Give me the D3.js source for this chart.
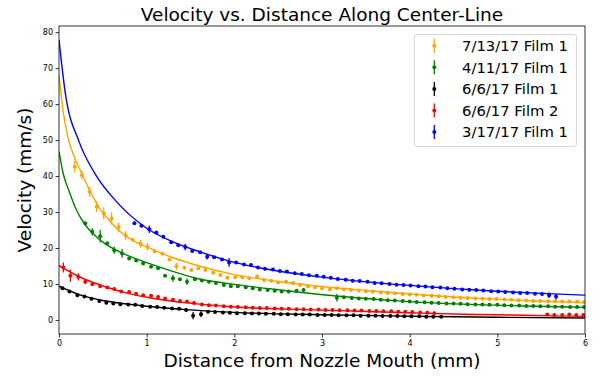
<!DOCTYPE html>
<html>
<head>
<meta charset="utf-8">
<script src="https://cdn.jsdelivr.net/npm/d3@7"></script>
<style>
  body { margin: 0; background: #fff; }
  text { font-family: "DejaVu Sans", sans-serif; fill: #000; }
</style>
</head>
<body>
<svg id="chart" width="598" height="376"></svg>
<script>
// ---- data ----
const legendLabels = ["7/13/17 Film 1", "4/11/17 Film 1", "6/6/17 Film 1", "6/6/17 Film 2", "3/17/17 Film 1"];
const xTicks = [0, 1, 2, 3, 4, 5, 6];
const yTicks = [0, 10, 20, 30, 40, 50, 60, 70, 80];

// measured points [distance mm, velocity mm/s]
const orangePts = [[0.18,42.6],[0.26,40.3],[0.35,35.6],[0.43,31.5],[0.51,29.6],[0.60,28.2],[0.68,25.8],[0.76,23.5],[0.84,22.3],[0.93,21.2],
  [1.01,20.3],[1.09,19.0],[1.18,18.4],[1.26,16.8],[1.34,14.9],[1.43,14.5],[1.51,13.9],[1.59,14.4],[1.67,13.9],[1.76,13.1],
  [1.84,12.5],[1.92,11.7],[2.01,11.9],[2.09,11.9],[2.17,11.6],[2.26,12.1],[2.34,11.1],[2.42,10.9],[2.50,10.4],[2.59,10.6],
  [2.67,10.3],[2.75,9.7],[2.84,9.4],[2.92,9.1],[3.00,8.8],[3.09,8.5],[3.17,8.8],[3.25,8.5],[3.33,8.3],[3.42,8.2],
  [3.50,8.0],[3.58,7.9],[3.67,7.6],[3.75,7.5],[3.83,7.4],[3.92,7.2],[4.00,7.1],[4.08,7.0],[4.16,6.8],[4.25,6.7],
  [4.33,6.6],[4.41,6.4],[4.50,6.3],[4.58,6.2],[4.66,6.1],[4.75,6.0],[4.83,5.9],[4.91,5.8],[4.99,5.8],[5.08,5.7],
  [5.16,5.6],[5.24,5.5],[5.33,5.4],[5.41,5.3],[5.49,5.3],[5.58,5.2],[5.66,5.2],[5.74,5.1],[5.82,5.1],[5.91,5.1],[5.99,5.0]];
const greenPts = [[0.30,26.9],[0.38,24.5],[0.47,23.3],[0.55,21.3],[0.63,19.4],[0.72,18.5],[0.80,17.1],[0.88,16.5],[0.96,15.7],[1.05,14.8],
  [1.13,14.4],[1.21,12.3],[1.30,11.6],[1.38,11.3],[1.46,10.6],[1.55,11.3],[1.63,11.0],[1.71,10.6],[1.79,10.3],[1.88,9.7],
  [1.96,9.4],[2.04,9.4],[2.13,9.1],[2.21,8.8],[2.29,8.5],[2.38,8.3],[2.46,8.1],[2.54,7.9],[2.62,7.9],[2.71,8.1],[2.79,8.3],
  [3.17,6.2],[3.25,6.3],[3.34,6.1],[3.42,6.0],[3.50,5.9],[3.59,5.8],[3.67,5.6],[3.75,5.5],[3.83,5.4],[3.92,5.3],
  [4.00,5.1],[4.08,5.0],[4.17,4.9],[4.25,4.8],[4.33,4.7],[4.42,4.6],[4.50,4.6],[4.58,4.5],[4.66,4.4],[4.75,4.3],
  [4.83,4.3],[4.91,4.2],[5.00,4.2],[5.08,4.1],[5.16,4.0],[5.25,4.0],[5.33,3.9],[5.41,3.9],[5.49,3.8],[5.58,3.8],
  [5.66,3.7],[5.74,3.7],[5.83,3.6],[5.91,3.6],[5.99,3.6]];
const blackPts = [[0.04,8.8],[0.12,7.9],[0.21,6.9],[0.29,6.5],[0.37,5.9],[0.46,5.3],[0.54,4.8],[0.62,4.6],[0.70,4.4],[0.79,4.3],
  [0.87,4.2],[0.95,3.9],[1.04,3.7],[1.12,3.6],[1.20,3.4],[1.29,3.2],[1.37,3.1],[1.45,2.8],[1.53,1.2],[1.62,1.6],
  [1.70,2.3],[1.78,2.2],[1.87,2.1],[1.95,2.0],[2.03,1.9],[2.12,1.9],[2.20,1.8],[2.28,1.8],[2.36,1.7],[2.45,1.7],
  [2.53,1.6],[2.61,1.6],[2.70,1.5],[2.78,1.5],[2.86,1.5],[2.95,1.4],[3.03,1.4],[3.11,1.4],[3.19,1.3],[3.28,1.3],
  [3.36,1.3],[3.44,1.2],[3.53,1.2],[3.61,1.2],[3.69,1.1],[3.78,1.1],[3.86,1.1],[3.94,1.0],[4.02,1.0],[4.11,1.0],
  [4.19,0.9],[4.27,0.9],[4.36,0.9]];
const redPts = [[0.05,14.6],[0.13,12.3],[0.22,12.0],[0.30,10.6],[0.38,9.9],[0.47,9.4],[0.55,9.0],[0.63,8.6],[0.71,7.9],[0.80,7.8],
  [0.88,7.3],[0.96,6.9],[1.05,6.7],[1.13,6.4],[1.21,6.0],[1.30,5.6],[1.38,5.3],[1.46,5.1],[1.54,4.7],[1.63,4.3],
  [1.71,4.1],[1.79,4.0],[1.88,3.8],[1.96,3.7],[2.04,3.6],[2.13,3.5],[2.21,3.4],[2.29,3.3],[2.37,3.3],[2.46,3.2],
  [2.54,3.1],[2.62,3.1],[2.71,3.0],[2.79,3.0],[2.87,2.9],[2.96,2.9],[3.04,2.8],[3.12,2.8],[3.20,2.7],[3.29,2.7],
  [3.37,2.6],[3.45,2.6],[3.54,2.5],[3.62,2.5],[3.70,2.4],[3.79,2.4],[3.87,2.3],[3.95,2.3],[4.03,2.2],[4.12,2.1],
  [4.20,2.0],[4.28,1.9],
  [5.57,1.5],[5.65,1.4],[5.74,1.4],[5.82,1.5],[5.90,1.4],[5.98,1.4]];
const bluePts = [[0.86,26.9],[0.94,26.2],[1.03,25.2],[1.11,24.3],[1.19,23.1],[1.28,21.6],[1.36,20.8],[1.44,20.3],[1.52,19.2],[1.61,18.8],
  [1.69,17.6],[1.77,17.4],[1.86,16.8],[1.94,16.0],[2.02,16.0],[2.11,15.4],[2.19,15.3],[2.27,14.6],[2.35,14.2],[2.44,14.0],
  [2.52,13.6],[2.60,13.5],[2.69,13.0],[2.77,12.8],[2.85,12.4],[2.94,12.3],[3.02,12.0],[3.10,11.7],[3.18,11.4],[3.27,11.2],
  [3.35,10.9],[3.43,10.8],[3.52,10.6],[3.60,10.3],[3.68,10.2],[3.77,10.0],[3.85,9.8],[3.93,9.7],[4.01,9.6],[4.10,9.4],
  [4.18,9.3],[4.26,9.1],[4.35,9.0],[4.43,8.8],[4.51,8.7],[4.60,8.5],[4.68,8.4],[4.76,8.3],[4.84,8.2],[4.93,8.0],
  [5.01,7.9],[5.09,7.8],[5.18,7.6],[5.26,7.5],[5.34,7.5],[5.43,7.3],[5.51,7.2],[5.59,6.9],[5.67,6.5]];

// error bar half-widths that are visible [point index, +/- mm/s]; the rest use defaultErr
const defaultErr = 0.35;
const orangeErr = [[0,1.6],[1,1.2],[2,1.4],[3,1.5],[4,1.7],[5,1.7],[6,1.3],[7,1.2],[9,1.1],[10,1.1],[14,1.0]];
const greenErr = [[1,1.0],[2,1.8],[4,1.0],[5,1.2],[12,1.0],[14,0.9],[31,1.1]];
const blackErr = [[18,1.0],[19,0.8]];
const redErr = [[0,1.4],[1,1.7],[2,1.0],[3,0.7]];
const blueErr = [[2,1.0],[7,0.9],[10,0.8],[13,1.2],[57,0.8],[58,0.8]];

// fitted curves [distance, velocity]
const orangeFit = [[0,68],[0.05,57.5],[0.11,50],[0.18,45],[0.26,40.7],[0.35,36],[0.45,31.5],[0.58,27.5],[0.71,24.3],[0.85,22.0],
  [1.0,20.3],[1.3,17.3],[1.6,15.0],[2.0,12.6],[2.5,10.7],[3.0,9.3],[3.5,8.2],[4.0,7.2],[4.7,6.1],[5.3,5.4],[6.0,4.8]];
const greenFit = [[0,46.8],[0.05,40.5],[0.11,36.1],[0.2,30.5],[0.3,26.4],[0.41,23.5],[0.52,21.3],[0.75,18.3],[1.1,15.1],
  [1.6,11.4],[2.0,9.9],[2.5,8.4],[3.2,6.6],[4.0,5.1],[4.6,4.4],[5.3,3.9],[6.0,3.5]];
const blackFit = [[0,9.4],[0.25,6.9],[0.5,5.4],[0.75,4.5],[1.0,3.8],[1.5,2.8],[2.0,2.1],[2.5,1.7],[3.0,1.45],[4.0,1.05],[5.0,0.75],[6.0,0.55]];
const redFit = [[0,15.1],[0.25,11.8],[0.52,9.3],[0.75,7.6],[1.0,6.3],[1.3,5.2],[1.6,4.4],[2.0,3.6],[2.6,3.0],[3.2,2.6],[4.0,2.0],[4.6,1.6],[5.3,1.3],[6.0,1.0]];
const blueFit = [[0,77.8],[0.07,63.4],[0.23,49.5],[0.41,40.7],[0.64,33.3],[1.0,25.5],[1.3,21.7],[1.6,19.0],[2.0,16.0],[2.5,13.6],
  [3.0,11.9],[3.5,10.6],[4.0,9.6],[4.5,8.7],[5.0,8.0],[5.5,7.4],[6.0,6.9]];

// ---- drawing ----
const series = [
  { label: legendLabels[0], pts: orangePts, err: orangeErr, fit: orangeFit, color: "#ffa500" },
  { label: legendLabels[1], pts: greenPts,  err: greenErr,  fit: greenFit,  color: "#008000" },
  { label: legendLabels[2], pts: blackPts,  err: blackErr,  fit: blackFit,  color: "#000000" },
  { label: legendLabels[3], pts: redPts,    err: redErr,    fit: redFit,    color: "#ff0000" },
  { label: legendLabels[4], pts: bluePts,   err: blueErr,   fit: blueFit,   color: "#0000ff" }
];

const margin = { left: 59, right: 585, top: 26, bottom: 334 };
const svg = d3.select("#chart");

const x = d3.scaleLinear().domain([0, 6]).range([margin.left, margin.right]);
const y = d3.scaleLinear().domain([-3.9, 81.7]).range([margin.bottom, margin.top]);

svg.append("defs").append("clipPath").attr("id", "plotClip")
  .append("rect")
    .attr("x", margin.left).attr("y", margin.top)
    .attr("width", margin.right - margin.left)
    .attr("height", margin.bottom - margin.top);

const plot = svg.append("g").attr("clip-path", "url(#plotClip)");

const line = d3.line()
  .x(d => x(d[0]))
  .y(d => y(d[1]))
  .curve(d3.curveMonotoneX);

series.forEach(s => {
  const errs = new Map(s.err);
  const pts = s.pts.map((d, i) => ({ x: d[0], y: d[1], e: errs.get(i) || defaultErr }));
  const g = plot.append("g");
  g.selectAll("line.err")
    .data(pts)
    .enter().append("line")
      .attr("class", "err")
      .attr("x1", d => x(d.x)).attr("x2", d => x(d.x))
      .attr("y1", d => y(d.y - d.e)).attr("y2", d => y(d.y + d.e))
      .attr("stroke", s.color)
      .attr("stroke-width", 1.3);
  g.selectAll("circle")
    .data(pts)
    .enter().append("circle")
      .attr("cx", d => x(d.x))
      .attr("cy", d => y(d.y))
      .attr("r", 2)
      .attr("fill", s.color);
  g.append("path")
    .attr("d", line(s.fit))
    .attr("fill", "none")
    .attr("stroke", s.color)
    .attr("stroke-width", 1.4);
});

// axes
const xAxis = svg.append("g")
  .attr("transform", `translate(0,${margin.bottom})`)
  .call(d3.axisBottom(x).tickValues(xTicks).tickSize(3.5).tickPadding(2.5).tickFormat(d3.format("d")));
const yAxis = svg.append("g")
  .attr("transform", `translate(${margin.left},0)`)
  .call(d3.axisLeft(y).tickValues(yTicks).tickSize(3.5).tickPadding(2.5).tickFormat(d3.format("d")));
[xAxis, yAxis].forEach(a => {
  a.select(".domain").remove();
  a.selectAll(".tick line").attr("stroke", "#000").attr("stroke-width", 0.8);
  a.selectAll(".tick text").attr("font-size", 8).attr("fill", "#000")
    .style("font-family", "'DejaVu Sans', sans-serif");
});

// frame
svg.append("rect")
  .attr("x", margin.left).attr("y", margin.top)
  .attr("width", margin.right - margin.left)
  .attr("height", margin.bottom - margin.top)
  .attr("fill", "none")
  .attr("stroke", "#000")
  .attr("stroke-width", 0.8);

// titles
const cx = (margin.left + margin.right) / 2;
svg.append("text")
  .attr("x", cx).attr("y", 21)
  .attr("text-anchor", "middle")
  .attr("font-size", 18.5)
  .text("Velocity vs. Distance Along Center-Line");
svg.append("text")
  .attr("x", cx).attr("y", 367)
  .attr("text-anchor", "middle")
  .attr("font-size", 18.5)
  .text("Distance from Nozzle Mouth (mm)");
svg.append("text")
  .attr("transform", `translate(31,${(margin.top + margin.bottom) / 2}) rotate(-90)`)
  .attr("text-anchor", "middle")
  .attr("font-size", 18.5)
  .text("Velocity (mm/s)");

// legend
const legend = svg.append("g");
legend.append("rect")
  .attr("x", 414.5).attr("y", 34.5)
  .attr("width", 162).attr("height", 112)
  .attr("rx", 2.5)
  .attr("fill", "#fff").attr("fill-opacity", 0.8)
  .attr("stroke", "#cccccc").attr("stroke-width", 0.8);

const rows = legend.selectAll("g.row")
  .data(series)
  .enter().append("g")
    .attr("class", "row")
    .attr("transform", (d, i) => `translate(0,${45.7 + i * 21.6})`);
rows.append("line")
  .attr("x1", 434.3).attr("x2", 434.3)
  .attr("y1", -7).attr("y2", 7)
  .attr("stroke", d => d.color).attr("stroke-width", 1.3);
rows.append("circle")
  .attr("cx", 434.3).attr("cy", 0).attr("r", 2)
  .attr("fill", d => d.color);
rows.append("text")
  .attr("x", 462).attr("y", 5.3)
  .attr("font-size", 14.8)
  .text(d => d.label);
</script>
</body>
</html>
